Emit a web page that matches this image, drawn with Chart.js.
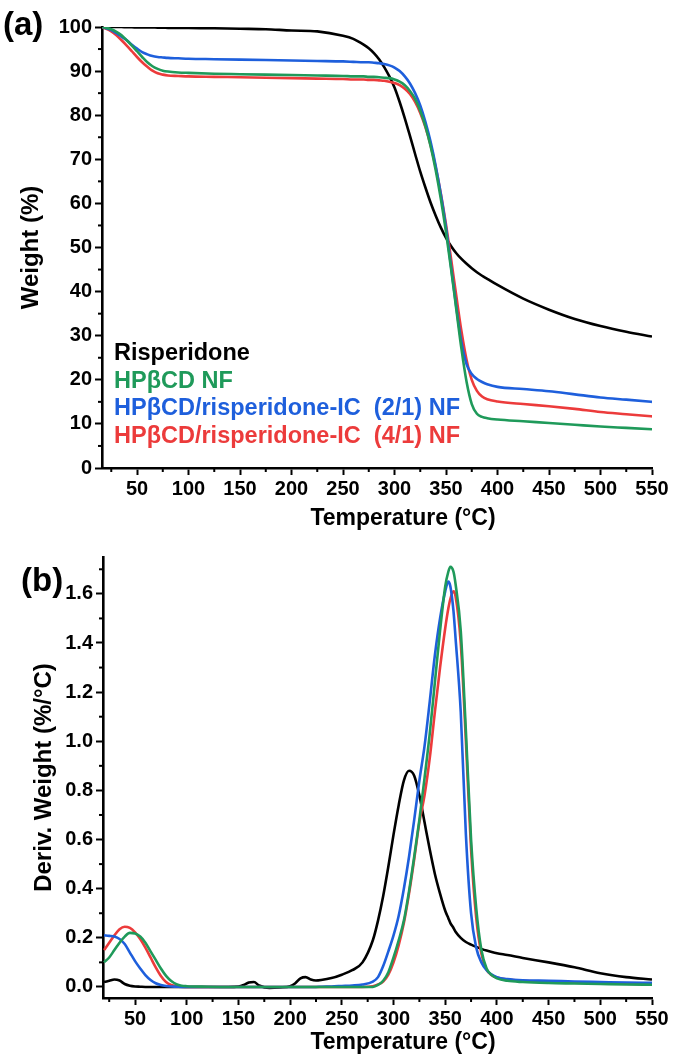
<!DOCTYPE html>
<html>
<head>
<meta charset="utf-8">
<script src="https://cdn.jsdelivr.net/npm/chart.js@4.4.1/dist/chart.umd.min.js"></script>
<style>
html, body { margin: 0; padding: 0; background: #fff; }
#wrap { position: relative; width: 673px; height: 1064px; }
canvas { position: absolute; left: 0; }
</style>
</head>
<body>
<div id="wrap">
  <canvas id="tga" width="673" height="535" style="top:0"></canvas>
  <canvas id="dtg" width="673" height="529" style="top:535px"></canvas>
</div>
<script>
// series names and colours (legend order)
var seriesNames = ['Risperidone', 'HP\u03b2CD NF', 'HP\u03b2CD/risperidone-IC  (2/1) NF', 'HP\u03b2CD/risperidone-IC  (4/1) NF'];
var seriesColors = ['#000000', '#1f9a5a', '#1e5fdc', '#ec3b3b'];
var drawOrder = [3, 0, 1, 2]; // green on top

// (a) TGA, weight %
var tgaTemps = [16, 25, 30, 35, 40, 45, 50, 55, 60, 65, 70, 75, 80, 90, 100, 125, 150, 175, 200, 225,
  250, 260, 270, 275, 280, 285, 290, 295, 300, 305, 310, 315, 320, 325, 330, 335, 340, 345, 350, 355,
  360, 365, 370, 375, 380, 385, 390, 400, 425, 450, 475, 500, 525, 550];
var tgaRisperidone = [100, 100, 100, 100, 99.95, 99.95, 99.9, 99.9, 99.9, 99.9,
  99.85, 99.85, 99.8, 99.8, 99.8, 99.7, 99.6, 99.5, 99.2, 99.0,
  98.0, 97.3, 96.0, 95.2, 94.1, 92.7, 90.9, 88.8, 86.3, 83.0,
  79.3, 75.3, 71.2, 67.2, 63.6, 60.2, 57.2, 54.5, 52.2, 50.3,
  48.7, 47.4, 46.3, 45.3, 44.4, 43.6, 42.9, 41.5, 38.4, 35.9,
  33.8, 32.2, 30.9, 29.8];
var tgaHPbCD = [100, 99.5, 98.9, 98.1, 97.0, 95.8, 94.5, 93.2, 92.0, 91.1,
  90.5, 90.1, 89.9, 89.7, 89.6, 89.4, 89.3, 89.2, 89.1, 89.0,
  88.9, 88.8, 88.8, 88.7, 88.7, 88.6, 88.5, 88.4, 88.1, 87.6,
  86.8, 85.5, 83.7, 81.0, 77.5, 73.0, 67.5, 61.0, 53.5, 45.0,
  36.0, 27.0, 19.5, 14.5, 12.3, 11.6, 11.3, 11.0, 10.6, 10.2,
  9.8, 9.4, 9.1, 8.8];
var tgaIC21 = [100, 99.3, 98.6, 97.8, 97.0, 96.0, 95.1, 94.3, 93.8, 93.4,
  93.2, 93.1, 93.0, 92.9, 92.8, 92.7, 92.6, 92.5, 92.4, 92.3,
  92.2, 92.1, 92.0, 92.0, 91.9, 91.8, 91.6, 91.3, 90.8, 90.0,
  88.8, 87.2, 85.0, 82.2, 78.5, 74.0, 68.5, 62.0, 54.5, 45.5,
  36.5, 28.5, 23.5, 21.3, 20.2, 19.5, 19.0, 18.4, 17.9, 17.4,
  16.7, 16.0, 15.5, 15.0];
var tgaIC41 = [100, 99.0, 98.1, 97.0, 95.8, 94.5, 93.2, 92.0, 91.0, 90.1,
  89.5, 89.2, 89.0, 88.9, 88.8, 88.7, 88.6, 88.5, 88.4, 88.3,
  88.2, 88.1, 88.1, 88.0, 88.0, 87.9, 87.8, 87.6, 87.3, 86.8,
  86.0, 84.8, 83.0, 80.5, 77.3, 73.2, 68.2, 62.2, 55.2, 47.3,
  39.0, 31.0, 24.5, 20.0, 17.5, 16.2, 15.6, 15.1, 14.5, 14.0,
  13.4, 12.7, 12.2, 11.7];

// (b) DTG, deriv. weight %/°C
var dtgTemps = [20, 25, 30, 35, 40, 45, 50, 55, 60, 65, 70, 75, 80, 85, 90, 95, 100, 120, 140, 150,
  155, 160, 165, 170, 180, 190, 200, 205, 210, 215, 220, 225, 230, 240, 250, 260, 270, 280, 285, 290,
  295, 300, 305, 310, 315, 320, 325, 330, 335, 340, 345, 350, 353, 355, 358, 360, 365, 370, 375, 380,
  385, 390, 395, 400, 410, 425, 450, 475, 500, 525, 550];
var dtgRisperidone = [0.02, 0.025, 0.03, 0.026, 0.012, 0.005, 0.002, 0.001, 0, 0,
  0, 0, 0, 0, 0, 0, 0, 0, 0, 0.002,
  0.008, 0.018, 0.02, 0.006, -0.004, -0.002, 0.003, 0.015, 0.035, 0.04,
  0.03, 0.026, 0.028, 0.036, 0.05, 0.068, 0.1, 0.19, 0.27, 0.37,
  0.49, 0.62, 0.74, 0.84, 0.88, 0.86, 0.78, 0.67, 0.56, 0.46,
  0.38, 0.31, 0.28, 0.26, 0.24, 0.225, 0.2, 0.183, 0.172, 0.163,
  0.155, 0.148, 0.142, 0.137, 0.13, 0.118, 0.1, 0.08, 0.056, 0.04,
  0.03];
var dtgHPbCD = [0.1, 0.12, 0.15, 0.18, 0.205, 0.22, 0.218, 0.205, 0.18, 0.145,
  0.11, 0.075, 0.045, 0.024, 0.011, 0.005, 0.003, 0.001, 0, 0,
  0, 0, 0, 0, 0, 0, 0, 0, 0, 0,
  0, 0, 0, 0, 0, 0, 0, 0, 0.008, 0.025,
  0.06, 0.12, 0.19, 0.27, 0.39, 0.53, 0.68, 0.85, 1.03, 1.24,
  1.45, 1.63, 1.69, 1.71, 1.69, 1.64, 1.45, 1.04, 0.6, 0.32,
  0.15, 0.075, 0.048, 0.035, 0.025, 0.02, 0.016, 0.014, 0.012, 0.01,
  0.009];
var dtgIC21 = [0.21, 0.208, 0.205, 0.195, 0.175, 0.14, 0.105, 0.075, 0.048, 0.028,
  0.015, 0.008, 0.004, 0.002, 0.001, 0, 0, 0, 0, 0,
  0, 0, 0, 0, 0, 0, 0, 0, 0, 0,
  0, 0, 0.001, 0.002, 0.004, 0.006, 0.01, 0.022, 0.04, 0.085,
  0.145, 0.21, 0.29, 0.4, 0.53, 0.68, 0.84, 0.98, 1.16, 1.35,
  1.5, 1.61, 1.65, 1.63, 1.53, 1.42, 1.12, 0.62, 0.3, 0.16,
  0.1, 0.068, 0.05, 0.04, 0.032, 0.027, 0.025, 0.022, 0.02, 0.018,
  0.017];
var dtgIC41 = [0.15, 0.18, 0.21, 0.235, 0.245, 0.24, 0.222, 0.195, 0.16, 0.12,
  0.08, 0.045, 0.02, 0.008, 0.003, 0.001, 0, 0, 0, 0,
  0, 0, 0, 0, 0, 0, 0, 0, 0, 0,
  0, 0, 0, 0, 0, 0, 0, 0.003, 0.01, 0.022,
  0.05, 0.1, 0.17, 0.26, 0.38, 0.52, 0.67, 0.78, 0.93, 1.12,
  1.3, 1.46, 1.54, 1.58, 1.61, 1.59, 1.4, 1.0, 0.56, 0.28,
  0.135, 0.07, 0.048, 0.038, 0.03, 0.025, 0.022, 0.018, 0.015, 0.013,
  0.012];

var xTitle = 'Temperature (\u00b0C)';

var FONT = '"Liberation Sans", Arial, sans-serif';
Chart.defaults.font.family = FONT;
Chart.defaults.font.weight = 'bold';
Chart.defaults.color = '#000';

function makeSets(temps, lists) {
  return lists.map(function(vals, i) {
    return {
      label: seriesNames[i],
      data: temps.map(function(t, j) { return {x: t, y: vals[j]}; }),
      borderColor: seriesColors[i],
      borderWidth: 2.6,
      pointRadius: 0,
      fill: false,
      cubicInterpolationMode: 'monotone',
      order: drawOrder[i]
    };
  });
}

// minor ticks halfway between the major ones, panel letter, x title, text legend
var decor = {
  id: 'decor',
  afterDraw: function(chart, args, opts) {
    var ctx = chart.ctx, a = chart.chartArea;
    var xs = chart.scales.x, ys = chart.scales.y;
    ctx.save();
    ctx.strokeStyle = '#000';
    ctx.lineWidth = 2;
    var xv = xs.ticks.map(function(t) { return t.value; });
    var xstep = xv[1] - xv[0];
    for (var v = xv[0] - xstep / 2; v <= xs.max; v += xstep) {
      if (v < xs.min) continue;
      var px = xs.getPixelForValue(v);
      ctx.beginPath(); ctx.moveTo(px, a.bottom); ctx.lineTo(px, a.bottom + 4); ctx.stroke();
    }
    var yv = ys.ticks.map(function(t) { return t.value; });
    var ystep = yv[1] - yv[0];
    for (var w = yv[0] - ystep / 2; w <= ys.max; w += ystep) {
      if (w < ys.min) continue;
      var py = ys.getPixelForValue(w);
      ctx.beginPath(); ctx.moveTo(a.left, py); ctx.lineTo(a.left - 4, py); ctx.stroke();
    }
    ctx.fillStyle = '#000';
    ctx.textBaseline = 'middle';
    ctx.textAlign = 'center';
    ctx.font = 'bold 23px ' + FONT;
    ctx.fillText(xTitle, opts.titleX, opts.titleY);
    ctx.textAlign = 'left';
    ctx.font = 'bold 33px ' + FONT;
    ctx.fillText(opts.letter, opts.letterX, opts.letterY);
    if (opts.legend) {
      ctx.font = 'bold 23.5px ' + FONT;
      chart.data.datasets.forEach(function(ds, i) {
        ctx.fillStyle = ds.borderColor;
        ctx.fillText(ds.label, opts.legendX, opts.legendY + i * opts.legendGap);
      });
    }
    ctx.restore();
  }
};

function xAxis(min, height) {
  return {
    type: 'linear', min: min, max: 550,
    border: {color: '#000', width: 2.6},
    grid: {drawOnChartArea: false, tickLength: 7, tickWidth: 2, tickColor: '#000'},
    ticks: {stepSize: 50, includeBounds: false, autoSkip: false, padding: 2,
      font: {size: 20, weight: 'bold'}, maxRotation: 0},
    afterBuildTicks: function(s) { s.ticks = s.ticks.filter(function(t) { return t.value % 50 === 0; }); },
    afterFit: function(s) { s.height = height; }
  };
}

new Chart(document.getElementById('tga'), {
  type: 'line',
  data: {datasets: makeSets(tgaTemps, [tgaRisperidone, tgaHPbCD, tgaIC21, tgaIC41])},
  options: {
    responsive: false, animation: false,
    layout: {padding: {left: 0, right: 21, top: 27, bottom: 0}},
    plugins: {
      legend: {display: false}, tooltip: {enabled: false},
      decor: {letter: '(a)', letterX: 3, letterY: 26, titleX: 403, titleY: 519,
        legend: true, legendX: 114, legendY: 354, legendGap: 27.5}
    },
    scales: {
      x: xAxis(16, 67),
      y: {
        type: 'linear', min: 0, max: 100,
        border: {color: '#000', width: 2.6},
        grid: {drawOnChartArea: false, tickLength: 7, tickWidth: 2, tickColor: '#000'},
        ticks: {stepSize: 10, padding: 3, autoSkip: false, font: {size: 20, weight: 'bold'}},
        title: {display: true, text: 'Weight (%)', font: {size: 24, weight: 'bold'}, padding: {top: 17, bottom: 0}},
        afterFit: function(s) { s.width = 102; }
      }
    }
  },
  plugins: [decor]
});

new Chart(document.getElementById('dtg'), {
  type: 'line',
  data: {datasets: makeSets(dtgTemps, [dtgRisperidone, dtgHPbCD, dtgIC21, dtgIC41])},
  options: {
    responsive: false, animation: false,
    layout: {padding: {left: 0, right: 21, top: 22, bottom: 0}},
    plugins: {
      legend: {display: false}, tooltip: {enabled: false},
      decor: {letter: '(b)', letterX: 21, letterY: 47, titleX: 403, titleY: 508, legend: false}
    },
    scales: {
      x: xAxis(19, 66),
      y: {
        type: 'linear', min: -0.045, max: 1.75,
        border: {color: '#000', width: 2.6},
        grid: {drawOnChartArea: false, tickLength: 7, tickWidth: 2, tickColor: '#000'},
        ticks: {stepSize: 0.2, includeBounds: false, autoSkip: false, padding: 3, font: {size: 20, weight: 'bold'},
          callback: function(v) { return Math.abs(v) < 1e-9 ? '0.0' : v.toFixed(1); }},
        afterBuildTicks: function(s) {
          s.ticks = s.ticks.filter(function(t) {
            return t.value > -1e-9 && Math.abs(t.value * 5 - Math.round(t.value * 5)) < 1e-6;
          });
        },
        title: {display: true, text: 'Deriv. Weight (%/\u00b0C)', font: {size: 24, weight: 'bold'}, padding: {top: 30, bottom: 0}},
        afterFit: function(s) { s.width = 103; }
      }
    }
  },
  plugins: [decor]
});
</script>
</body>
</html>
